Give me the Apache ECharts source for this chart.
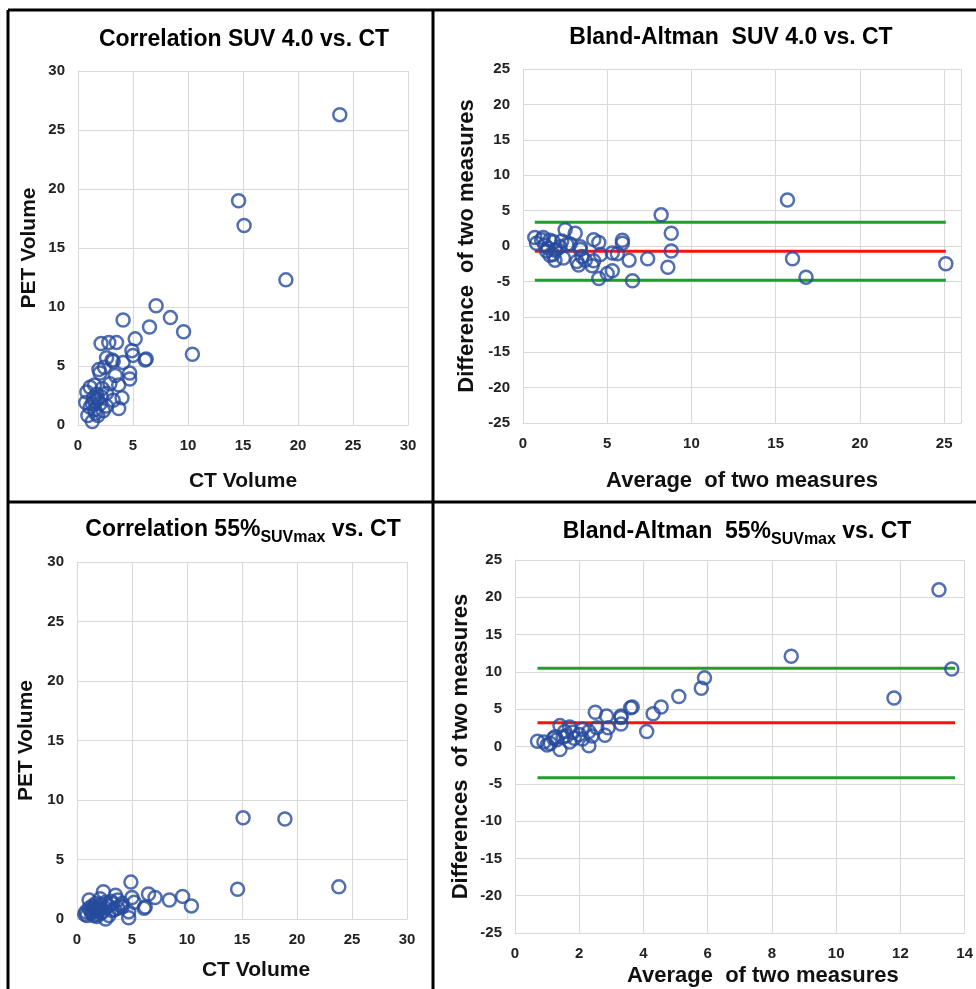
<!DOCTYPE html>
<html>
<head>
<meta charset="utf-8">
<script src="https://cdn.jsdelivr.net/npm/echarts@6/dist/echarts.min.js"></script>
<style>
  html, body { margin: 0; padding: 0; background: #fff; }
  #main { width: 976px; height: 989px; }
</style>
</head>
<body>
<div id="main"></div>
<script>
// CT volume of each lesion, PET volume at SUV 4.0 and at 55% SUVmax
var ctVolume = [23.8,14.6,15.1,18.9,7.1,8.4,4.1,6.5,9.6,10.4,5.2,2.1,2.8,3.5,2.6,3.2,4.9,5.0,6.2,6.1,4.1,3.1,2.4,1.9,2.0,4.7,4.7,3.4,2.9,3.7,1.1,0.8,1.5,2.2,2.6,4.0,3.2,1.4,0.7,1.1,2.0,1.7,1.5,1.8,1.3,2.3,3.7,2.6,0.9,1.8,1.3,1.5,2.1,1.6];
var pet40 = [26.3,19.0,16.9,12.3,10.1,9.1,8.9,8.3,7.9,6.0,7.3,6.9,7.0,7.0,5.7,5.4,6.3,5.9,5.6,5.5,5.3,5.5,4.9,4.7,4.4,4.4,3.9,4.2,3.5,3.4,3.2,2.8,3.4,3.1,2.7,2.3,2.1,2.3,1.9,1.5,1.8,2.6,2.0,2.2,1.8,1.2,1.4,1.6,0.8,0.8,0.3,1.3,2.4,1.0];
var pet55 = [2.7,2.5,8.5,8.4,1.8,1.6,1.3,2.1,1.9,1.1,1.4,1.2,1.1,2.0,0.9,1.3,3.1,1.8,1.0,0.9,1.0,1.5,2.3,0.7,1.0,0.6,0.1,0.8,0.3,1.6,1.6,0.6,0.9,0.5,0.0,1.1,0.7,1.1,0.4,0.9,0.8,1.3,0.6,0.4,0.7,0.6,0.9,1.4,0.3,0.2,0.5,0.3,1.7,1.0];

// Bland-Altman SUV 4.0 vs CT
var ba40Avg  = [0.7,0.8,1.2,1.3,1.4,1.5,1.6,1.6,1.8,1.9,1.9,1.8,2.2,2.3,2.4,2.5,2.6,2.8,3.1,3.2,3.3,3.4,3.4,3.5,4.1,4.2,4.2,4.5,4.6,4.5,5.0,5.3,5.3,5.6,5.9,5.9,6.3,6.5,7.4,8.2,8.8,8.8,8.6,15.7,16.0,16.8,25.1,2.0,1.1,3.7];
var ba40Diff = [1.2,0.4,1.2,0.1,-0.7,-0.3,0.8,-1.3,0.6,-0.6,-2.0,-1.2,-0.1,0.7,-1.7,2.3,0.2,0.3,1.8,-2.2,-2.7,-0.1,-0.5,-1.5,-2.8,-2.1,0.9,0.5,-1.2,-4.6,-3.9,-3.5,-1.0,-1.1,0.8,0.4,-2.0,-4.9,-1.8,4.4,1.8,-0.7,-3.0,6.5,-1.8,-4.4,-2.5,-0.5,0.9,-2.0];
var ba40Levels = [3.35, -0.75, -4.85];   // upper limit, mean, lower limit
var ba40Range = [0.7, 25.1];

// Bland-Altman 55% SUVmax vs CT
var ba55Avg  = [0.7,0.9,1.0,1.1,1.2,1.25,1.4,1.4,1.5,1.6,1.7,1.7,1.8,1.85,2.0,2.1,2.1,2.3,2.3,2.4,2.5,2.55,2.8,2.85,2.9,3.3,3.3,3.3,3.6,3.65,4.1,4.3,4.55,5.1,5.8,5.9,8.6,11.8,13.2,13.6,1.3,1.55];
var ba55Diff = [0.7,0.6,0.2,0.4,1.1,1.3,2.8,-0.4,1.3,1.4,2.6,0.6,1.9,1.1,1.6,2.3,1.0,2.0,0.1,1.4,4.6,2.5,1.5,4.1,2.5,4.1,3.9,3.0,5.2,5.3,2.0,4.4,5.3,6.7,7.8,9.2,12.1,6.5,21.0,10.4,0.9,2.0];
var ba55Levels = [10.5, 3.2, -4.2];
var ba55Range = [0.7, 13.7];

var FONT = '"Liberation Sans", Arial, sans-serif';
var markerColor = '#274b9c';
var gridColor = '#d9d9d9';

function zip(a, b) {
    var out = [];
    for (var i = 0; i < a.length; i++) out.push([a[i], b[i]]);
    return out;
}

function nameStyle(size, padLeft) {
    return { fontFamily: FONT, fontSize: size, fontWeight: 'bold', color: '#111', padding: [0, 0, 0, padLeft || 0] };
}

function axis(gridIndex, min, max, interval, name, nameGap, extra) {
    var ax = {
        type: 'value',
        gridIndex: gridIndex,
        min: min, max: max, interval: interval,
        name: name,
        nameLocation: 'middle',
        nameGap: nameGap,
        nameTextStyle: nameStyle(21),
        axisLine: { show: true, onZero: false, lineStyle: { color: gridColor } },
        axisTick: { show: false },
        axisLabel: { fontFamily: FONT, fontSize: 15, fontWeight: 'bold', color: '#222', margin: 13 },
        splitLine: { show: true, lineStyle: { color: gridColor, width: 1 } }
    };
    for (var k in extra) ax[k] = extra[k];
    return ax;
}

function scatter(x, y, data) {
    return {
        type: 'scatter', xAxisIndex: x, yAxisIndex: y, data: data,
        symbol: 'circle', symbolSize: 13, z: 5,
        itemStyle: { color: 'rgba(255,255,255,0)', borderColor: markerColor, borderWidth: 2.5 },
        emphasis: { disabled: true }
    };
}

function level(x, y, range, value, color) {
    return {
        type: 'line', xAxisIndex: x, yAxisIndex: y, z: 3,
        data: [[range[0], value], [range[1], value]],
        showSymbol: false, symbol: 'none',
        lineStyle: { color: color, width: 3 },
        silent: true
    };
}

var titleRich = {
    b: { fontFamily: FONT, fontSize: 23, fontWeight: 'bold', fill: '#000', lineHeight: 27, padding: [0, 0, 4, 0], verticalAlign: 'top' },
    s: { fontFamily: FONT, fontSize: 16, fontWeight: 'bold', fill: '#000', lineHeight: 19, verticalAlign: 'bottom' }
};

function titleText(x, y, text) {
    return {
        type: 'text', x: x, y: y, silent: true,
        style: { text: text, rich: titleRich, align: 'center', verticalAlign: 'middle', fill: '#000' }
    };
}

function rule(x1, y1, x2, y2) {
    return { type: 'line', silent: true, shape: { x1: x1, y1: y1, x2: x2, y2: y2 }, style: { stroke: '#000', lineWidth: 3 } };
}

var chart = echarts.init(document.getElementById('main'));
chart.setOption({
    backgroundColor: '#fff',
    animation: false,
    grid: [
        { left: 78, top: 71, width: 330, height: 354 },
        { left: 523, top: 69, width: 438, height: 354 },
        { left: 77, top: 562, width: 330, height: 357 },
        { left: 515, top: 560, width: 454, height: 373 }
    ],
    xAxis: [
        axis(0, 0, 30, 5, 'CT Volume', 46, {}),
        axis(1, 0, 26, 5, 'Average  of two measures', 47, {
            nameTextStyle: nameStyle(22),
            axisLabel: { fontFamily: FONT, fontSize: 15, fontWeight: 'bold', color: '#222', margin: 13, showMaxLabel: false }
        }),
        axis(2, 0, 30, 5, 'CT Volume', 41, { nameTextStyle: nameStyle(21, 28) }),
        axis(3, 0, 14, 2, 'Average  of two measures', 32, { nameTextStyle: nameStyle(22, 46) })
    ],
    yAxis: [
        axis(0, 0, 30, 5, 'PET Volume', 38, {}),
        axis(1, -25, 25, 5, 'Difference  of two measures', 45, { nameTextStyle: nameStyle(22) }),
        axis(2, 0, 30, 5, 'PET Volume', 40, {}),
        axis(3, -25, 25, 5, 'Differences  of two measures', 43, { nameTextStyle: nameStyle(22) })
    ],
    series: [
        scatter(0, 0, zip(ctVolume, pet40)),
        level(1, 1, ba40Range, ba40Levels[0], '#1f9e2c'),
        level(1, 1, ba40Range, ba40Levels[1], '#ff1010'),
        level(1, 1, ba40Range, ba40Levels[2], '#1f9e2c'),
        scatter(1, 1, zip(ba40Avg, ba40Diff)),
        scatter(2, 2, zip(ctVolume, pet55)),
        level(3, 3, ba55Range, ba55Levels[0], '#1f9e2c'),
        level(3, 3, ba55Range, ba55Levels[1], '#ff1010'),
        level(3, 3, ba55Range, ba55Levels[2], '#1f9e2c'),
        scatter(3, 3, zip(ba55Avg, ba55Diff))
    ],
    graphic: [
        rule(8, 10, 976, 10),
        rule(8, 502, 976, 502),
        rule(8, 10, 8, 989),
        rule(433, 10, 433, 989),
        titleText(244, 42, '{b|Correlation SUV 4.0 vs. CT}'),
        titleText(731, 40, '{b|Bland-Altman  SUV 4.0 vs. CT}'),
        titleText(243, 532, '{b|Correlation 55%}{s|SUVmax}{b| vs. CT}'),
        titleText(737, 534, '{b|Bland-Altman  55%}{s|SUVmax}{b| vs. CT}')
    ]
});
</script>
</body>
</html>
